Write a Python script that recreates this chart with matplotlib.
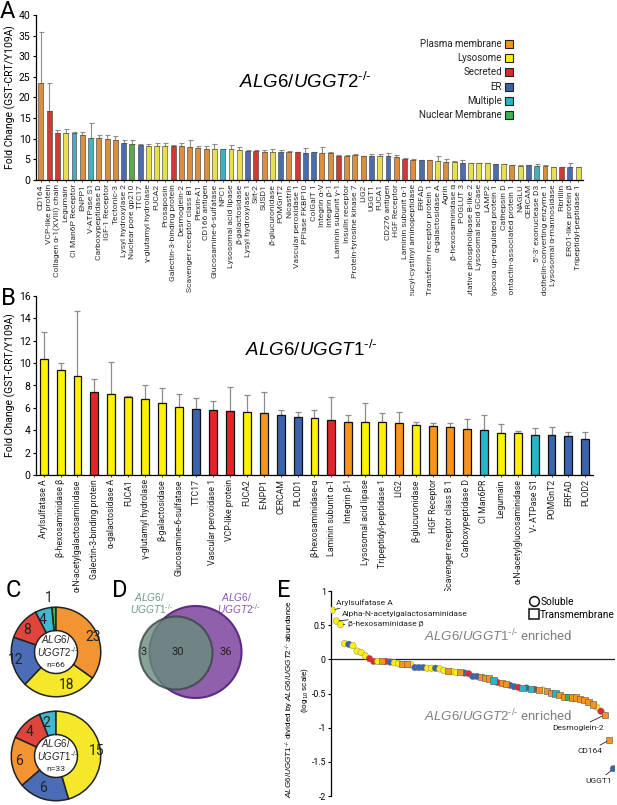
import matplotlib
matplotlib.use('Agg')
import matplotlib.pyplot as plt
from matplotlib.patches import Circle, Rectangle
from matplotlib.lines import Line2D
import numpy as np

plt.rcParams['font.family'] = ['Roboto', 'DejaVu Sans']
plt.rcParams['mathtext.fontset'] = 'custom'
plt.rcParams['mathtext.it'] = 'Liberation Sans:italic'
plt.rcParams['mathtext.rm'] = 'Liberation Sans'
plt.rcParams['axes.linewidth'] = 0.9

# ---------------- data ----------------
# panel A: ALG6/UGGT2-/- hits
labels_a = ['CD164', 'VCP-like protein', 'Collagen α-1(XVIII) chain', 'Legumain', 'CI Man6P Receptor',
            'ENPP1', 'V-ATPase S1', 'Carboxypeptidase D', 'IGF-1 Receptor', 'Tectonic-3',
            'Lysyl hydroxylase 2', 'Nuclear pore gp210', 'TTC17', 'γ-glutamyl hydrolase', 'FUCA2',
            'Prosaposin', 'Galectin-3-binding protein', 'Desmoglein-2', 'Scavenger receptor class B1',
            'Plexin-A1', 'CD166 antigen', 'Glucosamine-6-sulfatase', 'NPC1', 'Lysosomal acid lipase',
            'β-galactosidase', 'Lysyl hydroxylase 1', 'Slit-2', 'SUSD1', 'β-glucuronidase', 'POMGnT2',
            'Nicastrin', 'Vascular peroxidase 1', 'PPIase FKBP10', 'ColGalT 1', 'Integrin α-V',
            'Integrin β-1', 'Laminin subunit γ-1', 'Insulin receptor', 'Protein-tyrosine kinase 7', 'LIG2',
            'UGGT1', 'FUCA1', 'CD276 antigen', 'HGF Receptor', 'Laminin subunit α-1',
            'Leucyl-cystinyl aminopeptidase', 'ERFAD', 'Transferrin receptor protein 1', 'α-galactosidase A',
            'Agrin', 'β-hexosaminidase α', 'POGLUT 3', 'Putative phospholipase B-like 2',
            'Lysosomal acid GCase', 'LAMP2', 'Hypoxia up-regulated protein 1', 'Cathepsin D',
            'Contactin-associated protein 1', 'NAGLU', 'CERCAM', "5'-3' exonuclease D3",
            'Endothelin-converting enzyme 1', 'Lysosomal α-mannosidase', 'Fibrillin', 'ERO1-like protein β',
            'Tripeptidyl-peptidase 1']
values_a = [23.6, 16.7, 11.5, 11.4, 11.3, 11.0, 10.2, 10.1, 9.9, 9.8, 9.0, 8.7, 8.6, 8.3, 8.3, 8.3, 8.3,
            8.2, 8.1, 7.7, 7.6, 7.4, 7.4, 7.4, 7.2, 7.1, 7.1, 6.9, 6.9, 6.9, 6.9, 6.7, 6.6, 6.7, 6.5, 6.6,
            5.9, 5.9, 6.0, 5.8, 5.8, 5.8, 5.7, 5.6, 5.2, 4.9, 4.8, 4.8, 4.5, 4.4, 4.4, 4.2, 4.0, 4.0, 4.0,
            3.8, 3.8, 3.6, 3.5, 3.6, 3.5, 3.5, 3.1, 3.1, 3.1, 3.1]
err_a = [12.3, 6.7, 0.6, 0.9, 0.3, 0.6, 3.7, 0.9, 1.1, 0.8, 0.8, 1.0, 0.1, 0.4, 0.7, 0.6, 0.1, 0.7, 1.6,
         0.6, 0.7, 1.3, 0.0, 1.0, 0.7, 0.2, 0.1, 0.3, 0.5, 0.3, 0.1, 0.1, 1.1, 0.1, 1.4, 0.3, 0.1, 0.1,
         0.2, 0.1, 0.4, 0.5, 0.9, 0.5, 0.1, 0.1, 0.05, 0.05, 1.3, 0.6, 0.1, 0.6, 0.1, 0.1, 0.1, 0.1, 0.1,
         0.1, 0.1, 0.1, 0.3, 0.2, 0.1, 0.1, 0.9, 0.1]
loc_a = ['PM', 'Se', 'Se', 'Ly', 'Mu', 'PM', 'Mu', 'PM', 'PM', 'PM', 'ER', 'Nu', 'ER', 'Ly', 'Ly', 'Ly',
         'Se', 'PM', 'PM', 'PM', 'PM', 'Ly', 'Mu', 'Ly', 'Ly', 'ER', 'Se', 'PM', 'Ly', 'ER', 'PM', 'Se',
         'ER', 'ER', 'PM', 'PM', 'Se', 'PM', 'PM', 'PM', 'ER', 'Ly', 'ER', 'PM', 'Se', 'PM', 'ER', 'PM',
         'Ly', 'PM', 'Ly', 'ER', 'Ly', 'Ly', 'Ly', 'ER', 'Ly', 'PM', 'Ly', 'ER', 'Mu', 'PM', 'Ly', 'Se',
         'ER', 'Ly']

# panel B: ALG6/UGGT1-/- hits
labels_b = ['Arylsulfatase A', 'β-hexosaminidase β', 'α-N-acetylgalactosaminidase',
            'Galectin-3-binding protein', 'α-galactosidase A', 'FUCA1', 'γ-glutamyl hydrolase',
            'β-galactosidase', 'Glucosamine-6-sulfatase', 'TTC17', 'Vascular peroxidase 1',
            'VCP-like protein', 'FUCA2', 'E-NPP1', 'CERCAM', 'PLOD1', 'β-hexosaminidase-α',
            'Laminin subunit α-1', 'Integrin β-1', 'Lysosomal acid lipase', 'Tripeptidyl-peptidase 1',
            'LIG2', 'β-glucuronidase', 'HGF Receptor', 'Scavenger receptor class B 1',
            'Carboxypeptidase D', 'CI Man6PR', 'Legumain', 'α-N-acetylglucosaminidase',
            'V- ATPase S1', 'POMGnT2', 'ERFAD', 'PLOD2']
values_b = [10.4, 9.4, 8.87, 7.4, 7.2, 7.0, 6.8, 6.4, 6.07, 5.9, 5.83, 5.7, 5.65, 5.5, 5.33, 5.15, 5.09,
            4.88, 4.76, 4.7, 4.7, 4.64, 4.46, 4.35, 4.26, 4.1, 4.05, 3.72, 3.72, 3.6, 3.6, 3.48, 3.21]
err_b = [2.4, 0.6, 5.8, 1.2, 2.9, 0.05, 1.2, 1.4, 1.2, 0.95, 0.75, 2.16, 1.5, 1.9, 0.45, 0.45, 0.7,
         2.1, 0.6, 1.7, 0.8, 1.0, 0.27, 0.3, 0.4, 0.9, 1.3, 0.86, 0.2, 0.6, 0.7, 0.4, 0.65]
loc_b = ['Ly', 'Ly', 'Ly', 'Se', 'Ly', 'Ly', 'Ly', 'Ly', 'Ly', 'ER', 'Se', 'Se', 'Ly', 'PM', 'ER', 'ER',
         'Ly', 'Se', 'PM', 'Ly', 'Ly', 'PM', 'Ly', 'PM', 'PM', 'PM', 'Mu', 'Ly', 'Ly', 'Mu', 'ER', 'ER',
         'ER']

# panel C: counts per compartment
donut_uggt2 = [1, 4, 8, 12, 18, 23]
donut_uggt2_loc = ['Nu', 'Mu', 'Se', 'ER', 'Ly', 'PM']
donut_uggt1 = [2, 4, 6, 6, 15]
donut_uggt1_loc = ['Mu', 'Se', 'PM', 'ER', 'Ly']

# panel D: overlap
venn_only1, venn_both, venn_only2 = 3, 30, 36

# panel E: log10 ratio UGGT1/UGGT2
ratio_e = [0.72, 0.56, 0.51, 0.23, 0.22, 0.20, 0.12, 0.10, 0.05, 0.01,
           -0.03, -0.03, -0.03, -0.03, -0.04, -0.05, -0.06, -0.07, -0.07, -0.08,
           -0.12, -0.12, -0.12, -0.13, -0.13, -0.13, -0.14, -0.16, -0.17, -0.18,
           -0.19, -0.19, -0.20, -0.21, -0.25, -0.25, -0.26, -0.27, -0.28, -0.31,
           -0.34, -0.35, -0.36, -0.38, -0.40, -0.41, -0.42, -0.42, -0.43, -0.44,
           -0.45, -0.45, -0.46, -0.49, -0.50, -0.52, -0.55, -0.55, -0.56, -0.56,
           -0.58, -0.60, -0.62, -0.66, -0.70, -0.76, -0.81, -1.18, -1.60]
loc_e = ['Ly', 'Ly', 'Ly', 'Ly', 'ER', 'Ly', 'Ly', 'Ly', 'Ly', 'Se', 'Se', 'Ly', 'PM', 'Se', 'ER', 'Ly',
         'Ly', 'PM', 'PM', 'Ly', 'ER', 'ER', 'ER', 'Ly', 'Ly', 'ER', 'Ly', 'Ly', 'PM', 'Ly', 'Ly', 'PM',
         'ER', 'Se', 'ER', 'ER', 'PM', 'PM', 'PM', 'Mu', 'Se', 'PM', 'PM', 'ER', 'ER', 'Se', 'Mu', 'ER',
         'Mu', 'Se', 'PM', 'Ly', 'PM', 'PM', 'Mu', 'PM', 'PM', 'Nu', 'PM', 'PM', 'PM', 'PM', 'PM', 'PM',
         'Ly', 'Se', 'PM', 'PM', 'ER']
named_e = {0: 'Arylsulfatase A', 1: 'Alpha-N-acetylgalactosaminidase', 2: 'β-hexosaminidase β',
           66: 'Desmoglein-2', 67: 'CD164', 68: 'UGGT1'}

comp_names = ['Plasma membrane', 'Lysosome', 'Secreted', 'ER', 'Multiple', 'Nuclear Membrane']
comp_codes = ['PM', 'Ly', 'Se', 'ER', 'Mu', 'Nu']

col_soft = {'PM': '#dc8d3e', 'Ly': '#e8df4e', 'Se': '#cf3a35', 'ER': '#4b6cad', 'Mu': '#40b2bf', 'Nu': '#5aa94a'}
col = {'PM': '#f7941d', 'Ly': '#fff200', 'Se': '#e3242b', 'ER': '#3b64ad', 'Mu': '#27b5c7', 'Nu': '#39b54a'}
col_pie = {'PM': '#f39433', 'Ly': '#f5e82a', 'Se': '#e0453d', 'ER': '#4a6db5', 'Mu': '#41b8d0', 'Nu': '#3db54a'}

KO = r'^{\text{-/-}}'  # small knockout superscript


def geno(name):
    return r'$\mathit{%s}%s$' % (name, KO)


W, H = 617, 805
fig = plt.figure(figsize=(W / 100, H / 100), dpi=100)


def box(x0, y0, x1, y1):
    return [x0 / W, 1 - y1 / H, (x1 - x0) / W, (y1 - y0) / H]


def ft(x, y, s, **kw):
    fig.text(x / W, 1 - y / H, s, **kw)


# ---------------- A ----------------
axA = fig.add_axes(box(36, 15, 583, 180))
xa = np.arange(len(values_a))
axA.bar(xa, values_a, width=0.6, color=[col_soft[c] for c in loc_a], edgecolor='#3a3a3a', lw=0.4, zorder=2)
axA.errorbar(xa, values_a, yerr=[np.zeros(len(err_a)), err_a], fmt='none', ecolor='#8c8c8c',
             elinewidth=0.8, capsize=1.8, capthick=0.8, zorder=1)
axA.set_xlim(-0.6, len(values_a) - 0.4)
axA.set_ylim(0, 40)
axA.set_yticks(range(0, 41, 5))
axA.set_xticks(xa)
axA.set_xticklabels(labels_a, rotation=90, fontsize=6.1, color='#333333')
axA.tick_params(axis='x', length=1.5, width=0.5, pad=1.5)
axA.tick_params(axis='y', labelsize=7.5, length=2.5, pad=1.5)
axA.spines[['top', 'right']].set_visible(False)
axA.set_ylabel('Fold Change (GST-CRT/Y109A)', fontsize=7.5, labelpad=2)
ft(305, 82, geno('ALG6/UGGT2'), fontsize=13.5, ha='center', va='center')

for i, (name, code) in enumerate(zip(comp_names, comp_codes)):
    yy = 44 + i * 14.2
    ft(502, yy, name, fontsize=7, ha='right', va='center', color='#222222')
    fig.patches.append(Rectangle((505 / W, 1 - (yy + 4) / H), 8 / W, 8 / H, transform=fig.transFigure,
                                 facecolor=col[code], edgecolor='#222222', lw=0.8))

# ---------------- B ----------------
axB = fig.add_axes(box(36, 296, 593, 475))
xb = np.arange(len(values_b))
axB.bar(xb, values_b, width=0.47, color=[col[c] for c in loc_b], edgecolor='#111111', lw=0.9, zorder=2)
axB.errorbar(xb, values_b, yerr=[np.zeros(len(err_b)), err_b], fmt='none', ecolor='#8c8c8c',
             elinewidth=0.9, capsize=2.2, capthick=0.9, zorder=1)
axB.set_xlim(-0.45, len(values_b) - 0.55)
axB.set_ylim(0, 16)
axB.set_yticks(range(0, 17, 2))
axB.set_xticks(xb)
axB.set_xticklabels(labels_b, rotation=90, fontsize=6.3, color='#222222')
axB.tick_params(axis='x', length=1.5, width=0.5, pad=1.5)
axB.tick_params(axis='y', labelsize=7.5, length=2.5, pad=1.5)
axB.spines[['top', 'right']].set_visible(False)
axB.set_ylabel('Fold Change (GST-CRT/Y109A)', fontsize=7.5, labelpad=2)
ft(311, 350, geno('ALG6/UGGT1'), fontsize=13.5, ha='center', va='center')

# ---------------- C ----------------
for (cy, counts, locs, gname, n) in [(652, donut_uggt2, donut_uggt2_loc, 'UGGT2', 66),
                                     (756, donut_uggt1, donut_uggt1_loc, 'UGGT1', 33)]:
    axC = fig.add_axes(box(9, cy - 47, 103, cy + 47))
    wedges, texts = axC.pie(counts, colors=[col_pie[c] for c in locs], startangle=90, counterclock=True,
                            labels=[str(v) for v in counts], labeldistance=0.74,
                            wedgeprops=dict(width=0.52, edgecolor='#222222', lw=1.1),
                            textprops=dict(fontsize=10, color='#222222'))
    if counts[0] == 1:
        texts[0].set_position((-0.08, 1.2))
    axC.set_xlim(-1.05, 1.05)
    axC.set_ylim(-1.05, 1.05)
    axC.text(0, 0.28, r'$\mathit{ALG6/}$', fontsize=6.9, ha='center', va='center', color='#222222')
    axC.text(0.03, 0.0, geno(gname), fontsize=6.9, ha='center', va='center', color='#222222')
    axC.text(0, -0.28, 'n=%d' % n, fontsize=6.1, ha='center', va='center', color='#222222')

# ---------------- D ----------------
axD = fig.add_axes(box(112, 585, 275, 705))
axD.set_xlim(112, 275)
axD.set_ylim(705, 585)
axD.axis('off')
axD.add_patch(Circle((195.5, 652), 46, facecolor='#9060ac', edgecolor='#5e2a86', lw=1.5))
axD.add_patch(Circle((176, 653), 36.5, facecolor='#688c7c', edgecolor='#3a4644', lw=1.5, alpha=0.8))
axD.text(144, 652, str(venn_only1), fontsize=8, ha='center', va='center', color='#222222')
axD.text(178, 652, str(venn_both), fontsize=8, ha='center', va='center', color='#222222')
axD.text(226, 652, str(venn_only2), fontsize=8, ha='center', va='center', color='#222222')
axD.text(150, 597, r'$\mathit{ALG6/}$', fontsize=7.3, ha='center', va='center', color='#6f9a86')
axD.text(152, 609, geno('UGGT1'), fontsize=7.3, ha='center', va='center', color='#6f9a86')
axD.text(237, 597, r'$\mathit{ALG6/}$', fontsize=7.3, ha='center', va='center', color='#8a55b0')
axD.text(239, 609, geno('UGGT2'), fontsize=7.3, ha='center', va='center', color='#8a55b0')

# ---------------- E ----------------
axE = fig.add_axes(box(331, 591, 615, 796))
xe = np.arange(len(ratio_e))
ratio = np.array(ratio_e)
tm = np.array([c in ('PM', 'Mu', 'Nu') for c in loc_e])
ce = np.array([col[c] for c in loc_e])
axE.axhline(0, color='#222222', lw=0.9, zorder=1)
axE.scatter(xe[~tm], ratio[~tm], s=22, marker='o', c=ce[~tm], edgecolors='#777777', linewidths=0.3, zorder=3)
axE.scatter(xe[tm], ratio[tm], s=20, marker='s', c=ce[tm], edgecolors='#555555', linewidths=0.4, zorder=3)
axE.set_xlim(-0.3, 68.4)
axE.set_ylim(-2, 1)
axE.set_yticks([-2, -1.5, -1, -0.5, 0, 0.5, 1])
axE.set_yticklabels(['-2', '-1.5', '-1', '-0.5', '0', '0.5', '1'])
axE.tick_params(axis='y', labelsize=6.3, length=2.5, pad=1.2)
axE.set_xticks([])
axE.spines[['top', 'right', 'bottom']].set_visible(False)

offsets = {0: (4, 8, 'left'), 1: (5, 7, 'left'), 2: (7, 0, 'left'),
           66: (-1, -13, 'right'), 67: (-7, -11, 'right'), 68: (-1, -12, 'right')}
for i, name in named_e.items():
    dx, dy, ha = offsets[i]
    axE.annotate(name, xy=(xe[i], ratio[i]), xytext=(dx, dy), textcoords='offset pixels',
                 fontsize=6, ha=ha, va='center', color='#222222',
                 arrowprops=dict(arrowstyle='-', lw=0.6, color='#222222', shrinkA=0, shrinkB=2))

ft(424, 636, geno('ALG6/UGGT1') + ' enriched', fontsize=9.5, color='#808080', va='center')
ft(424, 716, geno('ALG6/UGGT2') + ' enriched', fontsize=9.5, color='#808080', va='center')

handles = [Line2D([], [], marker='o', ls='none', mfc='white', mec='#111111', mew=1.1, ms=7),
           Line2D([], [], marker='s', ls='none', mfc='white', mec='#111111', mew=1.1, ms=6.5)]
axE.legend(handles, ['Soluble', 'Transmembrane'], loc='upper left', bbox_to_anchor=(529 / W, 1 - 597 / H),
           bbox_transform=fig.transFigure, frameon=False, fontsize=7.3, handlelength=0.9, handletextpad=0.2,
           borderpad=0, borderaxespad=0, labelspacing=0.3)

ft(290, 699, geno('ALG6/UGGT1') + ' divided by ' + geno('ALG6/UGGT2') + ' abundance',
   fontsize=5.9, rotation=90, ha='center', va='center')
ft(305, 690, r'(log$_{10}$ scale)', fontsize=5.9, rotation=90, ha='center', va='center')

# panel letters
for letter, x, y in [('A', 0, 12), ('B', 1, 298), ('C', 6, 590), ('D', 112, 590), ('E', 277, 590)]:
    ft(x, y, letter, fontsize=17, ha='left', va='center')

fig.savefig('out.png', dpi=100)
